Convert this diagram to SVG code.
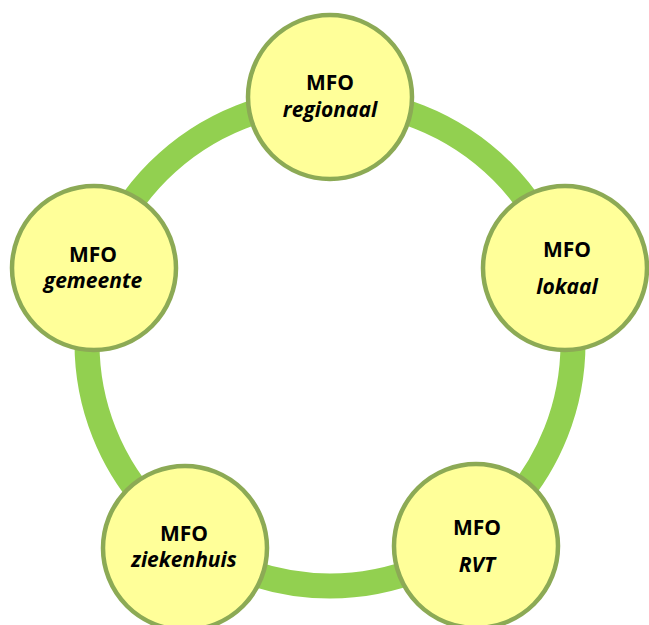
<svg xmlns="http://www.w3.org/2000/svg" width="649" height="625" viewBox="0 0 649 625">
  <style>
    .ring { fill: none; stroke: #92D050; stroke-width: 25; }
    .node circle { fill: #FFFF99; stroke: #8CAA55; stroke-width: 4.5; }
    .node text { font-family: "Open Sans", "Liberation Sans", sans-serif; font-size: 21px; font-weight: bold; fill: #000; text-anchor: middle; }
    .node text.it { font-style: italic; }
  </style>
  <rect width="649" height="625" fill="#FFFFFF"/>
  <g id="connectors">
    <circle class="ring" cx="330" cy="343" r="243"/>
  </g>
  <g id="node-regionaal" class="node">
    <circle cx="330" cy="97" r="82"/>
    <text x="330" y="90">MFO</text>
    <text class="it" x="330" y="117">regionaal</text>
  </g>
  <g id="node-lokaal" class="node">
    <circle cx="565" cy="268" r="82"/>
    <text x="567" y="257">MFO</text>
    <text class="it" x="567" y="294">lokaal</text>
  </g>
  <g id="node-rvt" class="node">
    <circle cx="476" cy="546" r="82"/>
    <text x="477" y="535">MFO</text>
    <text class="it" x="477" y="572">RVT</text>
  </g>
  <g id="node-ziekenhuis" class="node">
    <circle cx="185" cy="548" r="82"/>
    <text x="184" y="541">MFO</text>
    <text class="it" x="184" y="567">ziekenhuis</text>
  </g>
  <g id="node-gemeente" class="node">
    <circle cx="94" cy="268" r="82"/>
    <text x="93" y="262">MFO</text>
    <text class="it" x="93" y="288">gemeente</text>
  </g>
</svg>
